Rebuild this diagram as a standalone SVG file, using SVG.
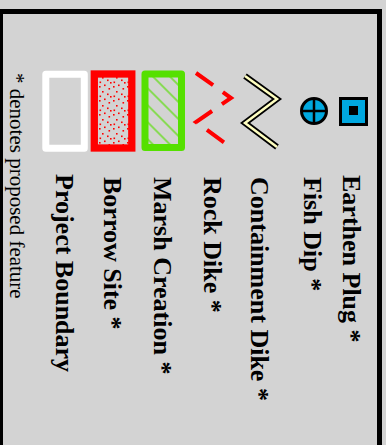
<svg xmlns="http://www.w3.org/2000/svg" width="386" height="445" viewBox="0 0 386 445">
<style>
.lbl{font-family:"Liberation Serif","Times New Roman",serif;font-weight:bold;font-size:26px;fill:#000}
.note{font-family:"Liberation Serif","Times New Roman",serif;font-size:21px;fill:#000}
.box{stroke-width:7;stroke-linejoin:round}
</style>
<defs>
<pattern id="hatch" width="12" height="12" patternUnits="userSpaceOnUse" patternTransform="rotate(45)">
<line x1="0" y1="6" x2="12" y2="6" stroke="#55e000" stroke-width="1.2"/>
</pattern>
<pattern id="dots" width="14" height="14" patternUnits="userSpaceOnUse">
<rect x="1" y="2" width="1.6" height="1.6" fill="#ff0000"/>
<rect x="6" y="0.5" width="1.6" height="1.6" fill="#ff0000"/>
<rect x="10.5" y="4" width="1.6" height="1.6" fill="#ff0000"/>
<rect x="4" y="7" width="1.6" height="1.6" fill="#ff0000"/>
<rect x="9" y="9.5" width="1.6" height="1.6" fill="#ff0000"/>
<rect x="1.5" y="11.5" width="1.6" height="1.6" fill="#ff0000"/>
<rect x="12" y="12" width="1.6" height="1.6" fill="#ff0000"/>
</pattern>
</defs>
<rect x="0" y="0" width="386" height="445" fill="#d3d3d3"/>
<rect id="frame" x="0.5" y="11.5" width="379" height="460" fill="none" stroke="#000" stroke-width="5"/>

<g id="earthen-plug">
<rect x="340.5" y="98.5" width="26" height="26" fill="#00a8e0" stroke="#000" stroke-width="3"/>
<rect x="349" y="106" width="9" height="9" fill="#000"/>
<text class="lbl" transform="translate(343,175) rotate(90)">Earthen Plug *</text>
</g>

<g id="fish-dip">
<circle cx="314" cy="111" r="12.5" fill="#00a8e0" stroke="#000" stroke-width="3"/>
<line x1="301.5" y1="111" x2="326.5" y2="111" stroke="#000" stroke-width="2.5"/>
<line x1="314" y1="98.5" x2="314" y2="123.5" stroke="#000" stroke-width="2.5"/>
<text class="lbl" transform="translate(304,177) rotate(90)">Fish Dip *</text>
</g>

<g id="containment-dike">
<polyline points="245,76 277,99 245,123 277,147" fill="none" stroke="#000" stroke-width="6"/>
<polyline points="245,76 277,99 245,123 277,147" fill="none" stroke="#ffffc0" stroke-width="2.5"/>
<text class="lbl" transform="translate(251,177) rotate(90)">Containment Dike *</text>
</g>

<g id="rock-dike">
<polyline points="196,73 231,98 196,122 229,146" fill="none" stroke="#ff0000" stroke-width="4" stroke-dasharray="21 12"/>
<text class="lbl" transform="translate(204,177) rotate(90)">Rock Dike *</text>
</g>

<g id="marsh-creation">
<rect class="box" x="145" y="74" width="36.5" height="73.5" fill="url(#hatch)" stroke="#55e000"/>
<text class="lbl" transform="translate(154,177) rotate(90)">Marsh Creation *</text>
</g>

<g id="borrow-site">
<rect x="94.3" y="74" width="37.5" height="74" fill="url(#dots)" stroke="#ff0000" stroke-width="7.3"/>
<text class="lbl" transform="translate(104,177) rotate(90)">Borrow Site *</text>
</g>

<g id="project-boundary">
<rect class="box" x="45.8" y="74.2" width="38.5" height="74" fill="none" stroke="#ffffff"/>
<text class="lbl" transform="translate(56,174) rotate(90)">Project Boundary</text>
</g>

<g id="note">
<text class="note" transform="translate(10,73) rotate(90)">* denotes proposed feature</text>
</g>
</svg>
